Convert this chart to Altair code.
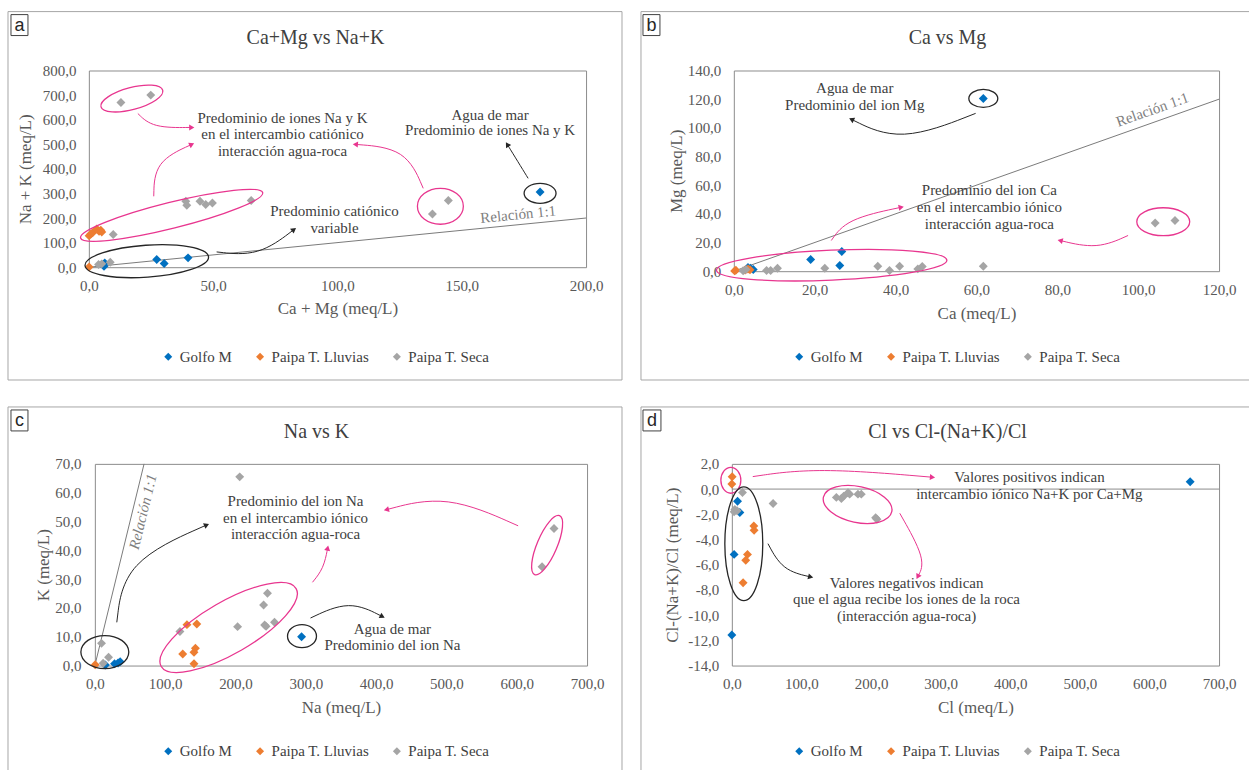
import math
import altair as alt
import pandas as pd

SERIES = ["Golfo M", "Paipa T. Lluvias", "Paipa T. Seca"]
COLORS = ["#0070C0", "#ED7D31", "#A5A5A5"]
PINK = "#E8368F"
DARK = "#262626"
TXT = "#404040"
SERIF = "Liberation Serif"

# ---------------- panel a : Ca+Mg vs Na+K ----------------
a_golfo_x = [6.1, 6.4, 27.3, 30.3, 39.9, 181.5]
a_golfo_y = [4, 17.5, 31, 15, 38, 306]
a_lluv_x = [0.1, 0.8, 1.5, 3.2, 4.1, 4.8, 5.2, 0.1]
a_lluv_y = [128, 135, 140, 155, 146, 150, 143, 1]
a_seca_x = [3.9, 5.2, 8.6, 9.8, 39.0, 39.4, 44.7, 47.0, 49.7, 65.3, 12.9, 24.9, 138.2, 144.6]
a_seca_y = [11, 13.5, 20, 133, 268, 252, 268, 255, 261, 271, 670, 700, 216, 271]
a_ref = [0, 200]

# ---------------- panel b : Ca vs Mg ----------------
b_golfo_x = [3.5, 4.1, 4.8, 19.0, 26.2, 26.7, 61.7]
b_golfo_y = [2.6, 2.1, 1.2, 8.1, 4.0, 13.7, 120.5]
b_lluv_x = [0.2, 0.5, 2.8, 3.5, 4.0]
b_lluv_y = [0.2, 0.6, 0.8, 1.5, 1.0]
b_seca_x = [2.3, 3.0, 8.1, 9.1, 10.8, 22.5, 35.6, 38.5, 41.0, 45.5, 46.6, 61.7, 104.2, 109.1]
b_seca_y = [0.3, 1.2, 0.5, 0.5, 2.1, 2.1, 3.5, 0.5, 3.5, 1.6, 3.3, 3.5, 33.6, 35.3]
b_ref = [0, 120]

# ---------------- panel c : Na vs K ----------------
c_golfo_x = [15, 28, 33, 36, 294]
c_golfo_y = [0.2, 0.6, 0.9, 1.3, 10.0]
c_lluv_x = [0.5, 131, 145, 125, 141, 143, 141]
c_lluv_y = [0.3, 14.2, 14.4, 4.0, 4.6, 6.0, 0.6]
c_seca_x = [9.5, 11.8, 19.5, 121, 203, 240, 245.5, 241.5, 243.5, 255.5, 206, 653, 636]
c_seca_y = [7.7, 0.8, 2.9, 11.8, 13.5, 21.0, 25.1, 14.1, 13.6, 15.0, 65.5, 47.6, 34.3]
c_ref = [0, 70]

# ---------------- panel d : Cl vs Cl-(Na+K)/Cl ----------------
d_golfo_x = [8.2, 11.5, 3.3, 0.0, 658.5]
d_golfo_y = [-0.96, -1.86, -5.18, -11.57, 0.58]
d_lluv_x = [0.5, 0.0, 31.6, 32.0, 22.5, 20.0, 16.2]
d_lluv_y = [0.98, 0.4, -2.92, -3.26, -5.18, -5.65, -7.43]
d_seca_x = [15.3, 4.3, 7.6, 3.3, 59.3, 150.2, 157.4, 160.7, 166.9, 169.3, 181.2, 186.0, 206.6, 208.5]
d_seca_y = [-0.27, -1.62, -1.72, -1.80, -1.14, -0.66, -0.74, -0.56, -0.29, -0.40, -0.40, -0.40, -2.28, -2.40]

# ---------------- annotations (data units; rx/ry in px) ----------------
a_ellipses = [(17.3, 686, 32, 11, 345, PINK), (33.3, 211, 94, 13, 346, PINK),
              (23.3, 24.4, 62, 16, 356, DARK), (141.4, 247.7, 23, 18, 0, PINK),
              (181.5, 300.5, 16, 10, 0, DARK)]
a_arrows = [(19.7, 625, 27.3, 576.6, 41.4, 568.5, PINK),
            (26.1, 288.3, 28.9, 418, 41.4, 499.5, PINK),
            (134.5, 320.8, 125.3, 459, 107.2, 499.5, PINK),
            (176.7, 361.4, 172.5, 430.5, 168.3, 499.5, DARK),
            (51.4, 62.1, 67.8, 65, 82.5, 153, DARK)]
a_texts = [(77.9, 605, "Predominio de iones Na y K"), (77.9, 540, "en el intercambio catiónico"),
           (77.9, 471, "interacción agua-roca"), (161.4, 621, "Agua de mar"),
           (161.4, 556, "Predominio de iones Na y K"), (98.8, 227, "Predominio catiónico"),
           (98.8, 158, "variable")]

b_ellipses = [(61.7, 120.5, 14.5, 9, 0, DARK), (106.2, 34.5, 26.5, 14, 0, PINK),
              (24.2, 4.2, 115.5, 15, 357.5, PINK)]
b_arrows = [(59.8, 110.1, 42.2, 95.6, 29.1, 105.9, DARK),
            (24.1, 21.4, 29.5, 35.3, 41.4, 44.6, PINK),
            (97.5, 24.9, 89.6, 17.9, 80.7, 21.4, PINK)]
b_texts = [(29.9, 127.5, "Agua de mar"), (29.9, 115.6, "Predominio del ion Mg"),
           (63.2, 56.4, "Predominio del ion Ca"), (63.2, 44.6, "en el intercambio iónico"),
           (63.2, 32.7, "interacción agua-roca")]

c_ellipses = [(14.2, 4.7, 24, 16.5, 0, DARK), (190.3, 13.2, 78, 26, 330, PINK),
              (294.6, 10.2, 14.5, 11.5, 0, DARK), (643.2, 41.8, 32, 10, 293, PINK)]
c_arrows = [(31.2, 15.0, 59.6, 34.7, 159, 48.8, DARK),
            (602, 48.5, 502.6, 56.8, 414.6, 54.1, PINK),
            (309.5, 28.9, 323.7, 34.1, 331.1, 40.8, PINK),
            (306.7, 16.5, 360.6, 20.8, 408.9, 17.0, DARK)]
c_texts = [(285.4, 57.2, "Predominio del ion Na"), (285.4, 51.3, "en el intercambio iónico"),
           (285.4, 45.7, "interacción agua-roca"), (423.1, 12.8, "Agua de mar"),
           (423.1, 7.3, "Predominio del ion Na")]

d_ellipses = [(-1.4, 0.70, 10, 13, 0, PINK), (17.2, -4.34, 19, 57, 0, DARK),
              (180.7, -1.22, 35, 18, 12, PINK)]
d_arrows = [(30.1, 0.99, 133.4, 1.47, 288.3, 0.94, PINK),
            (51.9, -4.33, 76, -6.18, 113.3, -6.97, DARK),
            (241.3, -1.92, 271.1, -5.24, 267.1, -6.95, PINK)]
d_texts = [(427.5, 0.96, "Valores positivos indican"),
           (427.5, -0.39, "intercambio iónico Na+K por Ca+Mg"),
           (251, -7.47, "Valores negativos indican"),
           (251, -8.75, "que el agua recibe los iones de la roca"),
           (251, -10.1, "(interacción agua-roca)")]

LE = "replace(replace(format(datum.value, '.1f'), '.', ','), '\u2212', '-')"
ONE = pd.DataFrame({"k": [0]})


def ellipse_path(k):
    c = 0.5523
    return (f"M-1,0C-1,{-c*k:.4f},{-c:.4f},{-k:.4f},0,{-k:.4f}"
            f"C{c:.4f},{-k:.4f},1,{-c*k:.4f},1,0"
            f"C1,{c*k:.4f},{c:.4f},{k:.4f},0,{k:.4f}"
            f"C{-c:.4f},{k:.4f},-1,{c*k:.4f},-1,0Z")


def panel(cfg):
    w, h = cfg["w"], cfg["h"]
    x0, x1 = cfg["xdom"]
    y0, y1 = cfg["ydom"]
    sx, sy = w / (x1 - x0), h / (y1 - y0)

    xax = alt.Axis(values=cfg["xticks"], title=cfg["xtitle"], labelExpr=LE, labelFlush=False,
                   labelOverlap=False, labelPadding=cfg["xlp"], titlePadding=cfg["xtp"])
    yax = alt.Axis(values=cfg["yticks"], title=cfg["ytitle"], labelExpr=LE, labelFlush=False,
                   labelOverlap=False, labelPadding=cfg["ylp"], titlePadding=cfg["ytp"])

    def X():
        return alt.X("x:Q", scale=alt.Scale(domain=[x0, x1], nice=False, zero=False), axis=xax)

    def Y():
        return alt.Y("y:Q", scale=alt.Scale(domain=[y0, y1], nice=False, zero=False), axis=yax)

    # invisible cell that fixes the overall extent of the page
    cx1, cx2, cy1, cy2 = cfg["cell"]
    layers = [alt.Chart(ONE).mark_rect(fill="white", opacity=0).encode(
        x=alt.value(cx1), x2=alt.value(cx2), y=alt.value(cy1), y2=alt.value(cy2))]
    for (ax1, ay1, ax2, ay2) in cfg["sides"]:
        layers.append(alt.Chart(ONE).mark_rule(color="#a6a6a6", strokeWidth=1).encode(
            x=alt.value(ax1), x2=alt.value(ax2), y=alt.value(ay1), y2=alt.value(ay2)))
    kx1, kx2, ky1, ky2 = cfg["box"]
    layers.append(alt.Chart(ONE).mark_rect(fill="white", stroke="#404040", strokeWidth=1).encode(
        x=alt.value(kx1), x2=alt.value(kx2), y=alt.value(ky1), y2=alt.value(ky2)))
    layers.append(alt.Chart(ONE).mark_text(font="Liberation Sans", fontSize=18, color="#262626",
                                           baseline="middle", align="center").encode(
        x=alt.value((kx1 + kx2) / 2), y=alt.value((ky1 + ky2) / 2 + 1), text=alt.value(cfg["letter"])))
    layers.append(alt.Chart(ONE).mark_text(font=SERIF, fontSize=20, color="#404040",
                                           baseline="middle", align="center").encode(
        x=alt.value(cfg["tpos"][0]), y=alt.value(cfg["tpos"][1]), text=alt.value(cfg["title"])))

    if cfg.get("ref") is not None:
        ref = pd.DataFrame({"x": cfg["ref"], "y": cfg["ref"]})
        layers.append(alt.Chart(ref).mark_line(color="#7a7a7a", strokeWidth=1).encode(x=X(), y=Y()))
        rx, ry = cfg["rel"]
        ang = (360 - math.degrees(math.atan(sy / sx))) % 360
        rel = pd.DataFrame({"x": [rx], "y": [ry], "t": ["Relación 1:1"]})
        layers.append(alt.Chart(rel).mark_text(font=SERIF, fontSize=15, color="#7f7f7f", angle=ang,
                                               fontStyle=cfg.get("relstyle", "normal"),
                                               baseline="middle", align="center").encode(
            x=X(), y=Y(), text="t:N"))
    if cfg.get("zero"):
        zdf = pd.DataFrame({"y": [0.0]})
        layers.append(alt.Chart(zdf).mark_rule(color="#8c8c8c", strokeWidth=1).encode(y=Y()))

    rows = []
    for s, xs, ys in zip(SERIES, cfg["xs"], cfg["ys"]):
        for xv, yv in zip(xs, ys):
            rows.append({"x": xv, "y": yv, "serie": s})
    sc = pd.DataFrame(rows)
    lx, ly = cfg["leg"]
    layers.append(alt.Chart(sc).mark_point(shape="diamond", filled=True, size=80, opacity=1).encode(
        x=X(), y=Y(),
        color=alt.Color("serie:N", scale=alt.Scale(domain=SERIES, range=COLORS),
                        legend=alt.Legend(orient="none", legendX=lx, legendY=ly, direction="horizontal",
                                          title=None, symbolType="diamond", symbolSize=64,
                                          symbolStrokeWidth=0, labelFont=SERIF, labelFontSize=15,
                                          labelColor="#404040", columnPadding=20, labelOffset=4))))

    er = []
    for (xc, yc, rx_, ry_, an, col) in cfg["ell"]:
        er.append({"x": xc, "y": yc, "shape": ellipse_path(ry_ / rx_), "size": 4 * rx_ * rx_,
                   "ang": an, "col": col})
    edf = pd.DataFrame(er)
    layers.append(alt.Chart(edf).mark_point(filled=False, strokeWidth=1.3, opacity=1).encode(
        x=X(), y=Y(), shape=alt.Shape("shape:N", scale=None), size=alt.Size("size:Q", scale=None),
        angle=alt.Angle("ang:Q", scale=None), stroke=alt.Stroke("col:N", scale=None)))

    lr, hr = [], []
    for i, (xs_, ys_, xv, yv, xe, ye, col) in enumerate(cfg["arr"]):
        xc = (6 * xv - xs_ - xe) / 4
        yc = (6 * yv - ys_ - ye) / 4
        for k, (px, py) in enumerate([(xs_, ys_), (xc, yc), (xe, ye)]):
            lr.append({"x": px, "y": py, "id": i, "k": k, "col": col})
        dx = (xe - xc) * sx
        dy = -(ye - yc) * sy
        hr.append({"x": xe, "y": ye, "ang": math.degrees(math.atan2(dy, dx)) % 360, "col": col})
    ldf, hdf = pd.DataFrame(lr), pd.DataFrame(hr)
    layers.append(alt.Chart(ldf).mark_line(interpolate="basis", strokeWidth=1).encode(
        x=X(), y=Y(), detail="id:N", order="k:Q", stroke=alt.Stroke("col:N", scale=None)))
    layers.append(alt.Chart(hdf).mark_point(shape="triangle-right", filled=True, size=36, opacity=1).encode(
        x=X(), y=Y(), angle=alt.Angle("ang:Q", scale=None), fill=alt.Fill("col:N", scale=None)))

    tdf = pd.DataFrame([{"x": a, "y": b, "t": t} for a, b, t in cfg["txt"]])
    layers.append(alt.Chart(tdf).mark_text(font=SERIF, fontSize=15, color=TXT,
                                           baseline="middle", align="center").encode(
        x=X(), y=Y(), text="t:N"))

    return alt.layer(*layers).properties(width=w, height=h)


pa = panel(dict(w=498, h=197, xdom=(0, 200), ydom=(0, 800),
                xticks=[0, 50, 100, 150, 200], yticks=list(range(0, 801, 100)),
                xtitle="Ca + Mg (meq/L)", ytitle="Na + K (meq/L)",
                xlp=11, xtp=7, ylp=13, ytp=8,
                cell=(-88, 543, -69, 323),
                sides=[(-81, -59, 534, -59), (-81, 310, 534, 310),
                       (-81, -59, -81, 310), (534, -59, 534, 310)],
                box=(-78, -61, -56, -35), letter="a",
                tpos=(227, -33), title="Ca+Mg vs Na+K", leg=(72, 279),
                xs=[a_golfo_x, a_lluv_x, a_seca_x], ys=[a_golfo_y, a_lluv_y, a_seca_y],
                ref=a_ref, rel=(172.7, 215),
                ell=a_ellipses, arr=a_arrows, txt=a_texts))

pb = panel(dict(w=486, h=201, xdom=(0, 120), ydom=(0, 140),
                xticks=list(range(0, 121, 20)), yticks=list(range(0, 141, 20)),
                xtitle="Ca (meq/L)", ytitle="Mg (meq/L)",
                xlp=11, xtp=8, ylp=13, ytp=2,
                cell=(-103, 516, -69, 323),
                sides=[(-93, -59, 516, -59), (-93, 310, 516, 310), (-93, -59, -93, 310)],
                box=(-91, -74, -56, -35), letter="b",
                tpos=(214, -33), title="Ca vs Mg", leg=(58, 279),
                xs=[b_golfo_x, b_lluv_x, b_seca_x], ys=[b_golfo_y, b_lluv_y, b_seca_y],
                ref=b_ref, rel=(103.5, 112.8),
                ell=b_ellipses, arr=b_arrows, txt=b_texts))

pc = panel(dict(w=493, h=202, xdom=(0, 700), ydom=(0, 70),
                xticks=list(range(0, 701, 100)), yticks=list(range(0, 71, 10)),
                xtitle="Na (meq/L)", ytitle="K (meq/L)",
                xlp=11, xtp=8, ylp=14, ytp=2,
                cell=(-94, 537, -71, 307),
                sides=[(-87, -57, 528, -57), (-87, -57, -87, 307), (528, -57, 528, 307)],
                box=(-84, -67, -54, -33), letter="c",
                tpos=(222, -32), title="Na vs K", leg=(66, 280),
                xs=[c_golfo_x, c_lluv_x, c_seca_x], ys=[c_golfo_y, c_lluv_y, c_seca_y],
                ref=c_ref, rel=(68.2, 53.4), relstyle="italic",
                ell=c_ellipses, arr=c_arrows, txt=c_texts))

pd_ = panel(dict(w=488, h=202, xdom=(0, 700), ydom=(-14, 2),
                 xticks=list(range(0, 701, 100)), yticks=list(range(-14, 3, 2)),
                 xtitle="Cl (meq/L)", ytitle="Cl-(Na+K)/Cl (meq/L)",
                 xlp=11, xtp=8, ylp=13, ytp=6,
                 cell=(-101, 518, -71, 307),
                 sides=[(-91, -57, 518, -57), (-91, -57, -91, 307)],
                 box=(-89, -71, -54, -33), letter="d",
                 tpos=(216, -32), title="Cl vs Cl-(Na+K)/Cl", leg=(60, 280),
                 xs=[d_golfo_x, d_lluv_x, d_seca_x], ys=[d_golfo_y, d_lluv_y, d_seca_y],
                 ref=None, zero=True,
                 ell=d_ellipses, arr=d_arrows, txt=d_texts))

# 6 px empty strip so that panel c starts slightly to the right of panel a
spacer = alt.Chart(ONE).mark_point(opacity=0).encode(x=alt.value(0), y=alt.value(0)).properties(
    width=6, height=1, view=alt.ViewBackground(strokeOpacity=0))


def indep(c):
    return c.resolve_scale(color="independent").resolve_legend(color="independent")


row1 = indep(alt.hconcat(pa, pb, spacing=148, bounds="flush"))
inner = indep(alt.hconcat(pc, pd_, spacing=145, bounds="flush"))
row2 = indep(alt.hconcat(spacer, inner, spacing=0, bounds="flush"))
chart = (indep(alt.vconcat(row1, row2, spacing=394, bounds="flush"))
         .properties(padding=0, background="white")
         .configure_view(stroke="#8c8c8c", strokeWidth=1)
         .configure_axis(labelFont=SERIF, labelFontSize=15, labelColor="#595959",
                         titleFont=SERIF, titleFontSize=17, titleFontWeight="normal",
                         titleColor="#595959", grid=False, domain=False, ticks=False))

chart.save("out.html", embed_options={"renderer": "svg", "actions": False})
